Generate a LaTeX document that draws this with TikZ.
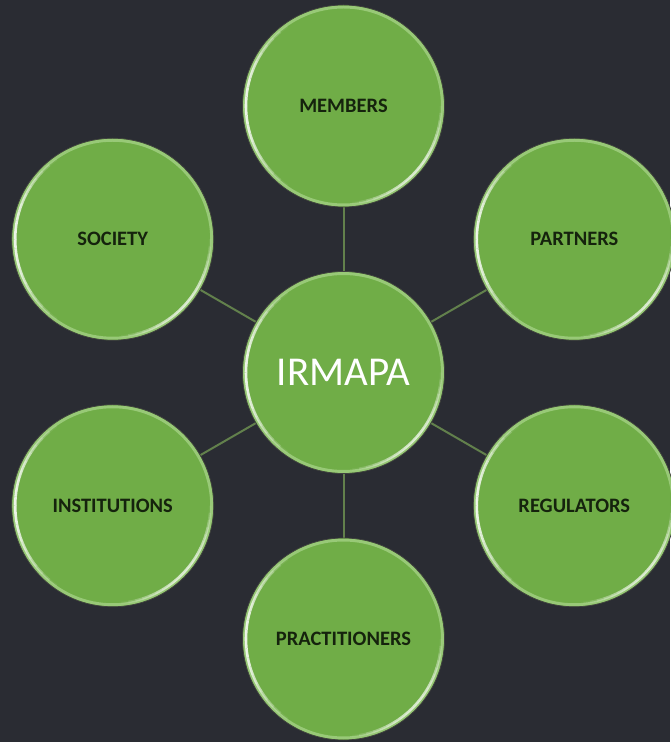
\documentclass[tikz,border=0pt]{standalone}
\usepackage{fontspec}
\setmainfont{Carlito}
\definecolor{slate}{HTML}{2A2C33}
\definecolor{leaf}{HTML}{70AD47}
\definecolor{rim}{HTML}{A3D183}
\definecolor{spoke}{HTML}{62804C}
\definecolor{ink}{HTML}{15230D}
\pgfdeclarelayer{canvas}
\pgfdeclarelayer{links}
\pgfsetlayers{canvas,links,main}
% a soft glint along the rim: short arcs whose opacity rises and falls
\newcommand{\glint}[4]{% centre, start angle, end angle, peak opacity
  \foreach \k in {0,...,19}{
    \pgfmathsetmacro{\aa}{#2+(#3-#2)*\k/20}
    \pgfmathsetmacro{\bb}{#2+(#3-#2)*(\k+1)/20}
    \pgfmathsetmacro{\op}{#4*sin(180*(\k+0.5)/20)}
    \draw[white, draw opacity=\op, line width=2.6pt]
      ([shift={(\aa:97.5pt)}]#1) arc[start angle=\aa, end angle=\bb, radius=97.5pt];
  }}
\tikzset{
  bubble/.style={circle, minimum size=202pt, inner sep=0pt, fill=leaf,
    draw=black!75, line width=0.7pt,
    path picture={
      \coordinate (pc) at (path picture bounding box.center);
      \draw[rim, line width=3pt, opacity=.8] (pc) circle[radius=99pt];
      \glint{pc}{125}{235}{0.85}
      \glint{pc}{275}{360}{0.7}
    }},
  outer/.style={bubble, text=ink, font=\fontsize{20.5}{23}\selectfont\bfseries},
  centre/.style={bubble, text=white, font=\fontsize{41}{45}\selectfont},
  link/.style={spoke, line width=2pt}
}
\begin{document}
\begin{tikzpicture}
\begin{pgfonlayer}{canvas}
  \fill[slate] (0,0) rectangle (670pt,742pt);
\end{pgfonlayer}
\useasboundingbox (0,0) rectangle (670pt,742pt);
\coordinate (o) at (343.5pt,369.5pt);
\node[centre] (hub) at (o) {IRMAPA};
\node[outer] (members) at ([shift={(90:266.5pt)}]o) {MEMBERS};
\node[outer] (partners) at ([shift={(30:266.5pt)}]o) {PARTNERS};
\node[outer] (regulators) at ([shift={(-30:266.5pt)}]o) {REGULATORS};
\node[outer] (practitioners) at ([shift={(-90:266.5pt)}]o) {PRACTITIONERS};
\node[outer] (institutions) at ([shift={(210:266.5pt)}]o) {INSTITUTIONS};
\node[outer] (society) at ([shift={(150:266.5pt)}]o) {SOCIETY};
\begin{pgfonlayer}{links}
  \foreach \n in {members,partners,regulators,practitioners,institutions,society}
    \draw[link] (hub) -- (\n);
\end{pgfonlayer}
\end{tikzpicture}
\end{document}
